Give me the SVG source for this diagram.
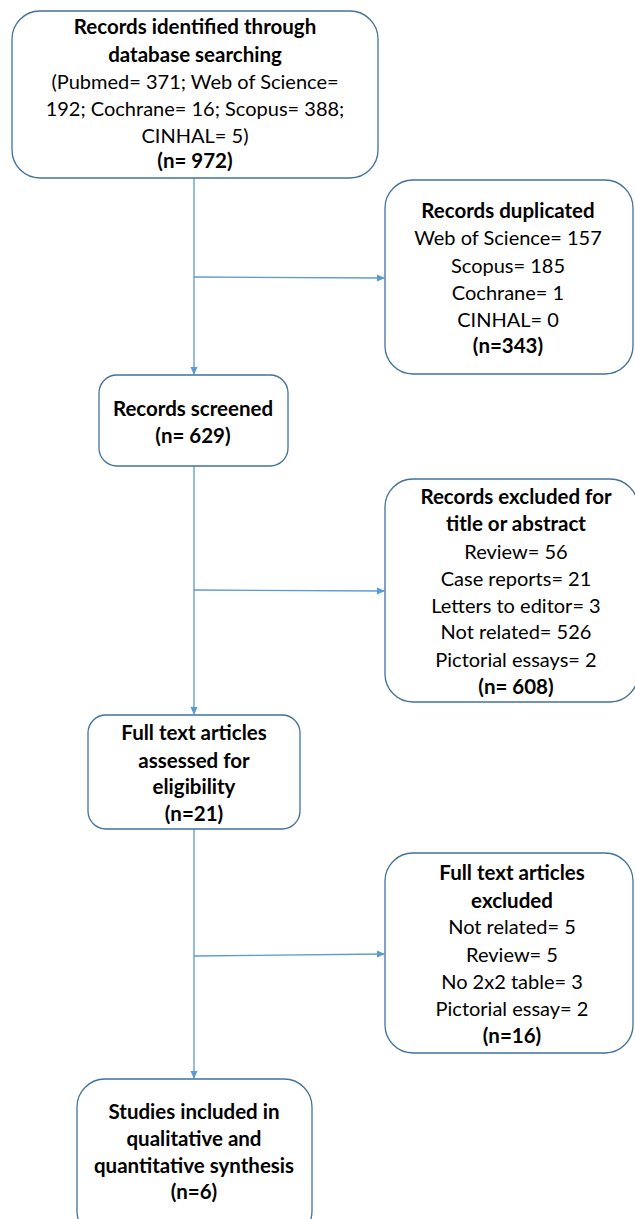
<svg xmlns="http://www.w3.org/2000/svg" width="635" height="1219" viewBox="0 0 635 1219">
<defs>
<style>
.box{fill:#fff;stroke:#41719C;stroke-width:1.3}
.t{font-family:Lato,"Liberation Sans",sans-serif;font-size:20px;fill:#000;text-anchor:middle}
.b{font-weight:bold;font-size:20.5px}
.c{stroke:#5B9BD5;stroke-width:1.3;fill:none}
</style>
<marker id="ah" markerWidth="8" markerHeight="8" refX="7" refY="4" orient="auto" markerUnits="userSpaceOnUse">
<path d="M0,0.5 L8,4 L0,7.5 Z" fill="#5B9BD5"/>
</marker>
</defs>
<g id="connectors">
<line class="c" x1="194" y1="178" x2="194" y2="374" marker-end="url(#ah)"/>
<line class="c" x1="194" y1="277" x2="384" y2="278" marker-end="url(#ah)"/>
<line class="c" x1="194" y1="466" x2="194" y2="714" marker-end="url(#ah)"/>
<line class="c" x1="194" y1="590" x2="384" y2="591" marker-end="url(#ah)"/>
<line class="c" x1="194" y1="829" x2="194" y2="1078" marker-end="url(#ah)"/>
<line class="c" x1="194" y1="956" x2="384" y2="954" marker-end="url(#ah)"/>
</g>
<g id="n1">
<rect class="box" x="12" y="11" width="366" height="167" rx="28"/>
<text class="t b" x="195" y="34">Records identified through</text>
<text class="t b" x="195" y="62">database searching</text>
<text class="t" x="195" y="89">(Pubmed= 371; Web of Science=</text>
<text class="t" x="195" y="116">192; Cochrane= 16; Scopus= 388;</text>
<text class="t" x="195" y="143">CINHAL= 5)</text>
<text class="t b" x="195" y="168">(n= 972)</text>
</g>
<g id="n2">
<rect class="box" x="385" y="180" width="248" height="194" rx="28"/>
<text class="t b" x="508" y="218">Records duplicated</text>
<text class="t" x="508" y="245">Web of Science= 157</text>
<text class="t" x="508" y="273">Scopus= 185</text>
<text class="t" x="508" y="300">Cochrane= 1</text>
<text class="t" x="508" y="327">CINHAL= 0</text>
<text class="t b" x="508" y="353">(n=343)</text>
</g>
<g id="n3">
<rect class="box" x="99" y="375" width="189" height="91" rx="18"/>
<text class="t b" x="193" y="416">Records screened</text>
<text class="t b" x="193" y="443">(n= 629)</text>
</g>
<g id="n4">
<rect class="box" x="385" y="479" width="253" height="223" rx="28"/>
<text class="t b" x="516" y="504">Records excluded for</text>
<text class="t b" x="516" y="531">title or abstract</text>
<text class="t" x="516" y="559">Review= 56</text>
<text class="t" x="516" y="586">Case reports= 21</text>
<text class="t" x="516" y="613">Letters to editor= 3</text>
<text class="t" x="516" y="639">Not related= 526</text>
<text class="t" x="516" y="667">Pictorial essays= 2</text>
<text class="t b" x="516" y="694">(n= 608)</text>
</g>
<g id="n5">
<rect class="box" x="88" y="715" width="212" height="114" rx="18"/>
<text class="t b" x="194" y="740">Full text articles</text>
<text class="t b" x="194" y="768">assessed for</text>
<text class="t b" x="194" y="794">eligibility</text>
<text class="t b" x="194" y="821">(n=21)</text>
</g>
<g id="n6">
<rect class="box" x="385" y="853" width="248" height="200" rx="28"/>
<text class="t b" x="512" y="880">Full text articles</text>
<text class="t b" x="512" y="908">excluded</text>
<text class="t" x="512" y="934">Not related= 5</text>
<text class="t" x="512" y="962">Review= 5</text>
<text class="t" x="512" y="989">No 2x2 table= 3</text>
<text class="t" x="512" y="1016">Pictorial essay= 2</text>
<text class="t b" x="512" y="1043">(n=16)</text>
</g>
<g id="n7">
<rect class="box" x="77" y="1079" width="235" height="160" rx="28"/>
<text class="t b" x="194" y="1119">Studies included in</text>
<text class="t b" x="194" y="1146">qualitative and</text>
<text class="t b" x="194" y="1173">quantitative synthesis</text>
<text class="t b" x="194" y="1199">(n=6)</text>
</g>
</svg>
